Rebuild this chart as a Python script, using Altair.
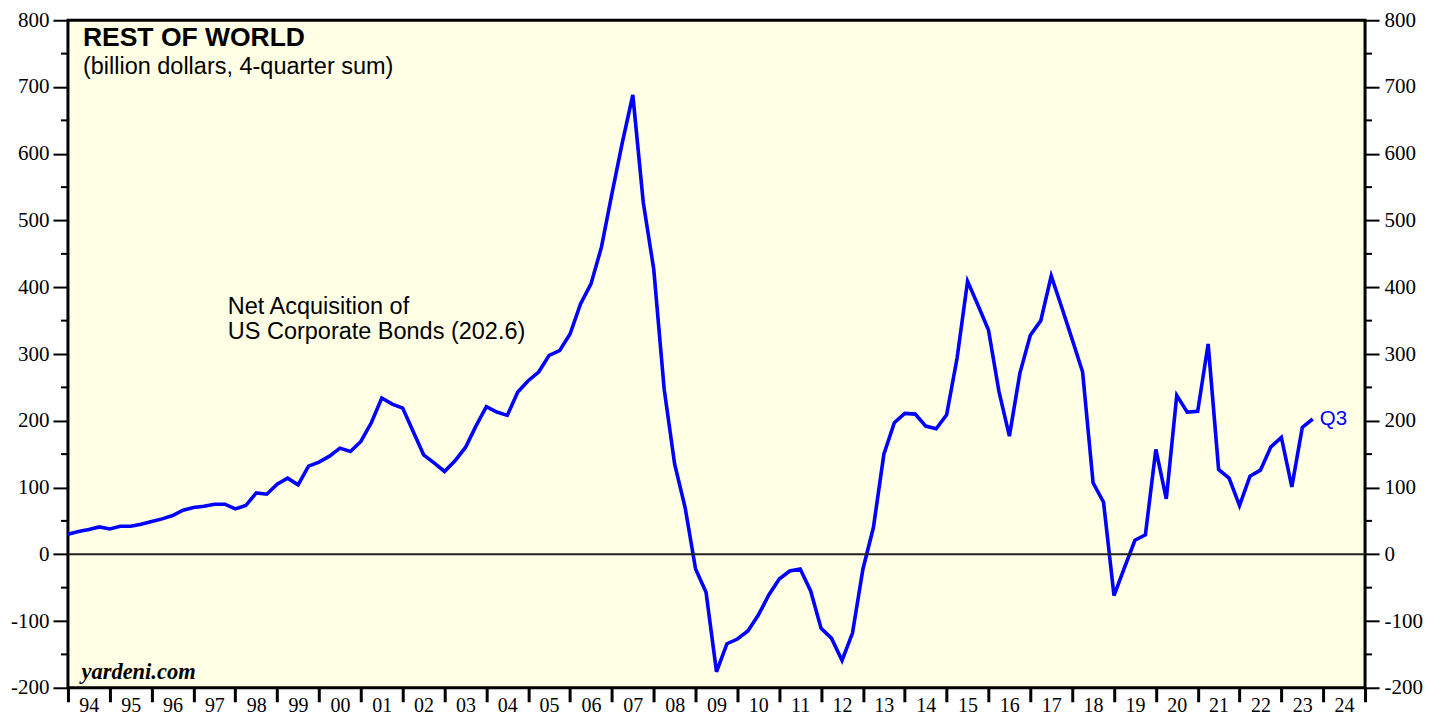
import altair as alt
import pandas as pd

# ---------------- data ----------------
# quarterly observations, 1993Q4 .. 2023Q3 (4-quarter sum, billion dollars)
values = [30, 34, 37, 41, 38, 42, 42, 45, 49, 53, 58, 66, 70, 72, 75, 75, 68, 73, 92, 90,
          105, 114, 104, 132, 138, 147, 159, 154, 169, 197, 234, 225, 219, 184, 149, 137, 124, 140, 160, 192,
          221, 213, 208, 243, 260, 273, 298, 305, 330, 375, 405, 460, 540, 617, 688, 527, 427, 247, 135, 70,
          -22, -57, -176, -134, -127, -115, -91, -61, -37, -25, -22, -55, -111, -126, -159, -118, -22, 40, 150, 197,
          211, 210, 192, 188, 209, 294, 409, 373, 336, 244, 177, 271, 328, 350, 417, 370, 322, 273, 107, 78,
          -62, -20, 21, 29, 157, 83, 238, 213, 214, 315, 127, 114, 73, 117, 126, 161, 175, 101, 190, 202.6]

first_year, first_q = 1993, 4
quarters = []
t_vals = []
y, q = first_year, first_q
for _ in values:
    quarters.append(f"{y}Q{q}")
    t_vals.append(y + q / 4.0)   # quarter-end position in decimal years
    q += 1
    if q > 4:
        q = 1
        y += 1

years = list(range(1994, 2026))
major_ticks = list(range(-200, 801, 100))
minor_ticks = list(range(-150, 800, 100))

title_text = "REST OF WORLD"
subtitle_text = "(billion dollars, 4-quarter sum)"
note_lines = ["Net Acquisition of", "US Corporate Bonds (202.6)"]
last_label = "Q3"
source_text = "yardeni.com"

# ---------------- chart ----------------
W, H = 1298, 668
BG = "#FFFFE5"
SANS = "Liberation Sans"
SERIF = "Liberation Serif"

df = pd.DataFrame({"quarter": quarters, "t": t_vals, "value": values})

xscale = alt.Scale(domain=[1994, 2025], nice=False, zero=False)
yscale = alt.Scale(domain=[-200, 800], nice=False, zero=False)

x_axis = alt.Axis(values=years, tickSize=14, tickWidth=3, tickColor="black",
                  labelExpr="datum.value >= 2025 ? '' : substring(toString(datum.value), 2, 4)",
                  labelOffset=20.9, labelFont=SERIF, labelFontSize=20, labelColor="black",
                  labelPadding=-6, labelFlush=False, labelOverlap=False, labelBound=False,
                  domain=False, grid=False, title=None)

y_axis_left = alt.Axis(values=major_ticks, orient="left", tickSize=15, tickWidth=2, tickColor="black",
                       labelExpr="toString(datum.value)",
                       labelFont=SERIF, labelFontSize=21, labelColor="black", labelPadding=4,
                       labelFlush=False, labelOverlap=False,
                       domain=False, grid=False, title=None)

y_axis_right = alt.Axis(values=major_ticks, orient="right", tickSize=14, tickWidth=2, tickColor="black",
                        labelExpr="toString(datum.value)",
                        labelFont=SERIF, labelFontSize=21, labelColor="black", labelPadding=5,
                        labelFlush=False, labelOverlap=False,
                        domain=False, grid=False, title=None)

line = alt.Chart(df).mark_line(color="#0000FF", strokeWidth=3.6).encode(
    x=alt.X("t:Q", scale=xscale, axis=x_axis),
    y=alt.Y("value:Q", scale=yscale, axis=y_axis_left))

zero = alt.Chart(pd.DataFrame({"value": [0]})).mark_rule(color="#222222", strokeWidth=2).encode(
    y=alt.Y("value:Q", scale=yscale, axis=y_axis_left))

minor_left = alt.Chart(pd.DataFrame({"value": minor_ticks})).mark_rule(color="black", strokeWidth=2).encode(
    y=alt.Y("value:Q", scale=yscale, axis=y_axis_left), x=alt.value(-7), x2=alt.value(0))

title = alt.Chart(pd.DataFrame({"s": [title_text]})).mark_text(
    font=SANS, fontSize=26.5, fontWeight="bold", color="black", align="left", baseline="alphabetic"
).encode(text="s:N", x=alt.value(15), y=alt.value(26))

subtitle = alt.Chart(pd.DataFrame({"s": [subtitle_text]})).mark_text(
    font=SANS, fontSize=23.5, color="black", align="left", baseline="alphabetic"
).encode(text="s:N", x=alt.value(15), y=alt.value(54))

note1 = alt.Chart(pd.DataFrame({"s": [note_lines[0]]})).mark_text(
    font=SANS, fontSize=23.5, color="black", align="left", baseline="alphabetic"
).encode(text="s:N", x=alt.value(160), y=alt.value(294))

note2 = alt.Chart(pd.DataFrame({"s": [note_lines[1]]})).mark_text(
    font=SANS, fontSize=23.5, color="black", align="left", baseline="alphabetic"
).encode(text="s:N", x=alt.value(160), y=alt.value(318.5))

q3 = alt.Chart(pd.DataFrame({"t": [t_vals[-1]], "value": [values[-1]], "s": [last_label]})).mark_text(
    font=SANS, fontSize=20.5, color="#0000FF", align="left", baseline="middle", dx=7
).encode(text="s:N", x=alt.X("t:Q", scale=xscale, axis=x_axis),
         y=alt.Y("value:Q", scale=yscale, axis=y_axis_left))

source = alt.Chart(pd.DataFrame({"s": [source_text]})).mark_text(
    font=SERIF, fontSize=22.5, fontWeight="bold", fontStyle="italic", color="black",
    align="left", baseline="alphabetic"
).encode(text="s:N", x=alt.value(13.5), y=alt.value(659))

main = alt.layer(line, zero, minor_left, title, subtitle, note1, note2, q3, source)

right = alt.Chart(pd.DataFrame({"m": minor_ticks})).mark_rule(color="black", strokeWidth=2).encode(
    y=alt.Y("m:Q", scale=yscale, axis=y_axis_right), x=alt.value(W), x2=alt.value(W + 7))

chart = alt.layer(main, right).resolve_scale(y="independent").properties(
    width=W, height=H,
    autosize=alt.AutoSizeParams(type="none"),
    padding={"left": 60, "top": 12, "right": 70, "bottom": 29},
    background="white",
).configure_view(fill=BG, stroke="black", strokeWidth=3)

chart.save("out.html", embed_options={"renderer": "svg", "actions": False})
